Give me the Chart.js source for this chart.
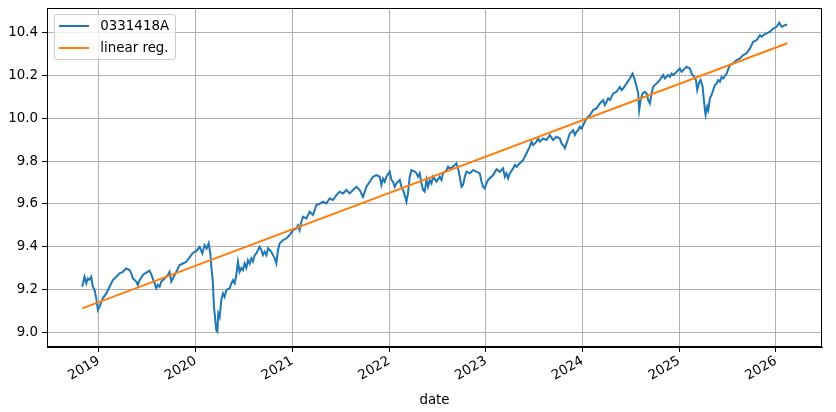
<!DOCTYPE html>
<html>
<head>
<meta charset="utf-8">
<script src="https://cdn.jsdelivr.net/npm/chart.js"></script>
<style>
    body { margin: 0; background: #fff; }
    #wrap { position: relative; width: 836px; height: 412px; }
    #legend {
        position: absolute; left: 54px; top: 14px; width: 122px; height: 46px;
        box-sizing: border-box; border: 1px solid #cccccc; border-radius: 3px;
        background: rgba(255, 255, 255, 0.8);
        font-family: "DejaVu Sans", sans-serif; font-size: 13.4px; color: #000;
    }
    #legend .row { display: flex; align-items: center; height: 21.7px; padding-left: 3.7px; }
    #legend .swatch { width: 30px; height: 2px; margin-right: 11.6px; }
</style>
</head>
<body>
<div id="wrap">
    <canvas id="chart" width="836" height="412"></canvas>
    <div id="legend"></div>
</div>
<script>
// dates as decimal years
const years = [
    2018.828, 2018.852, 2018.870, 2018.886, 2018.904, 2018.921, 2018.938, 2018.956, 2018.973, 2018.990,
    2019.007, 2019.025, 2019.041, 2019.077, 2019.111, 2019.145, 2019.180, 2019.214, 2019.248, 2019.283,
    2019.318, 2019.335, 2019.352, 2019.387, 2019.403, 2019.421, 2019.455, 2019.490, 2019.524, 2019.542,
    2019.576, 2019.594, 2019.610, 2019.628, 2019.645, 2019.680, 2019.714, 2019.731, 2019.749, 2019.765,
    2019.801, 2019.835, 2019.869, 2019.904, 2019.938, 2019.972, 2020.008, 2020.042, 2020.070, 2020.093,
    2020.114, 2020.135, 2020.152, 2020.163, 2020.179, 2020.190, 2020.204, 2020.214, 2020.225, 2020.235,
    2020.249, 2020.266, 2020.283, 2020.300, 2020.318, 2020.352, 2020.370, 2020.386, 2020.404, 2020.421,
    2020.438, 2020.455, 2020.473, 2020.490, 2020.507, 2020.525, 2020.541, 2020.559, 2020.576, 2020.593,
    2020.611, 2020.628, 2020.662, 2020.680, 2020.696, 2020.714, 2020.732, 2020.748, 2020.766, 2020.783,
    2020.800, 2020.818, 2020.835, 2020.852, 2020.869, 2020.903, 2020.939, 2020.973, 2021.007, 2021.042,
    2021.059, 2021.076, 2021.094, 2021.110, 2021.145, 2021.180, 2021.214, 2021.249, 2021.283, 2021.317,
    2021.352, 2021.386, 2021.421, 2021.456, 2021.490, 2021.524, 2021.559, 2021.593, 2021.627, 2021.663,
    2021.697, 2021.731, 2021.749, 2021.766, 2021.800, 2021.834, 2021.870, 2021.904, 2021.921, 2021.938,
    2021.955, 2021.973, 2022.007, 2022.025, 2022.041, 2022.059, 2022.076, 2022.111, 2022.128, 2022.145,
    2022.162, 2022.180, 2022.196, 2022.214, 2022.232, 2022.266, 2022.283, 2022.300, 2022.317, 2022.335,
    2022.352, 2022.369, 2022.387, 2022.403, 2022.421, 2022.439, 2022.455, 2022.490, 2022.524, 2022.542,
    2022.558, 2022.594, 2022.610, 2022.628, 2022.662, 2022.697, 2022.714, 2022.731, 2022.749, 2022.765,
    2022.783, 2022.801, 2022.835, 2022.869, 2022.904, 2022.938, 2022.956, 2022.972, 2022.990, 2023.007,
    2023.024, 2023.042, 2023.076, 2023.111, 2023.145, 2023.179, 2023.197, 2023.214, 2023.231, 2023.248,
    2023.283, 2023.300, 2023.318, 2023.352, 2023.386, 2023.404, 2023.421, 2023.455, 2023.473, 2023.490,
    2023.525, 2023.541, 2023.559, 2023.593, 2023.628, 2023.662, 2023.696, 2023.732, 2023.766, 2023.783,
    2023.800, 2023.818, 2023.835, 2023.852, 2023.869, 2023.887, 2023.903, 2023.921, 2023.938, 2023.955,
    2023.972, 2023.990, 2024.007, 2024.024, 2024.042, 2024.076, 2024.110, 2024.145, 2024.180, 2024.214,
    2024.231, 2024.249, 2024.265, 2024.283, 2024.300, 2024.317, 2024.352, 2024.386, 2024.404, 2024.420,
    2024.456, 2024.490, 2024.518, 2024.541, 2024.559, 2024.576, 2024.586, 2024.601, 2024.621, 2024.645,
    2024.663, 2024.679, 2024.697, 2024.714, 2024.731, 2024.766, 2024.800, 2024.834, 2024.852, 2024.886,
    2024.904, 2024.921, 2024.938, 2024.973, 2025.007, 2025.025, 2025.041, 2025.076, 2025.111, 2025.128,
    2025.152, 2025.173, 2025.186, 2025.207, 2025.221, 2025.242, 2025.255, 2025.266, 2025.273, 2025.289,
    2025.300, 2025.317, 2025.335, 2025.351, 2025.369, 2025.387, 2025.403, 2025.421, 2025.438, 2025.455,
    2025.490, 2025.524, 2025.558, 2025.594, 2025.628, 2025.662, 2025.697, 2025.731, 2025.765, 2025.801,
    2025.835, 2025.852, 2025.869, 2025.904, 2025.938, 2025.972, 2026.007, 2026.034, 2026.059, 2026.093, 2026.117
];

const values = [
    9.212, 9.259, 9.228, 9.251, 9.245, 9.259, 9.212, 9.197, 9.158, 9.103,
    9.118, 9.140, 9.158, 9.181, 9.212, 9.243, 9.259, 9.275, 9.282, 9.298,
    9.290, 9.275, 9.251, 9.236, 9.220, 9.243, 9.267, 9.278, 9.287, 9.270,
    9.228, 9.205, 9.220, 9.212, 9.236, 9.251, 9.267, 9.282, 9.236, 9.251,
    9.282, 9.314, 9.321, 9.329, 9.350, 9.370, 9.380, 9.399, 9.368, 9.407,
    9.390, 9.415, 9.370, 9.306, 9.228, 9.118, 9.056, 9.009, 9.002, 9.087,
    9.070, 9.150, 9.181, 9.165, 9.197, 9.205, 9.228, 9.243, 9.228, 9.267,
    9.329, 9.282, 9.300, 9.290, 9.321, 9.300, 9.337, 9.320, 9.345, 9.330,
    9.360, 9.368, 9.399, 9.384, 9.360, 9.376, 9.360, 9.392, 9.384, 9.376,
    9.360, 9.345, 9.321, 9.384, 9.415, 9.430, 9.439, 9.454, 9.477, 9.485,
    9.500, 9.477, 9.516, 9.540, 9.532, 9.563, 9.548, 9.595, 9.600, 9.610,
    9.602, 9.626, 9.618, 9.641, 9.657, 9.649, 9.665, 9.649, 9.665, 9.680,
    9.665, 9.633, 9.657, 9.680, 9.704, 9.727, 9.735, 9.727, 9.688, 9.719,
    9.704, 9.727, 9.751, 9.712, 9.704, 9.680, 9.696, 9.712, 9.680, 9.665,
    9.641, 9.610, 9.650, 9.727, 9.758, 9.751, 9.743, 9.727, 9.743, 9.696,
    9.665, 9.657, 9.712, 9.680, 9.712, 9.696, 9.727, 9.704, 9.727, 9.712,
    9.743, 9.758, 9.774, 9.766, 9.774, 9.790, 9.766, 9.727, 9.680, 9.688,
    9.727, 9.751, 9.743, 9.758, 9.751, 9.743, 9.704, 9.680, 9.672, 9.696,
    9.712, 9.720, 9.735, 9.762, 9.750, 9.766, 9.727, 9.743, 9.720, 9.743,
    9.766, 9.782, 9.774, 9.790, 9.805, 9.821, 9.837, 9.868, 9.891, 9.875,
    9.891, 9.906, 9.891, 9.906, 9.899, 9.922, 9.899, 9.914, 9.906, 9.883,
    9.875, 9.860, 9.883, 9.906, 9.930, 9.937, 9.945, 9.922, 9.937, 9.945,
    9.961, 9.953, 9.968, 9.984, 10.000, 10.015, 10.039, 10.047, 10.070, 10.086,
    10.063, 10.078, 10.094, 10.086, 10.101, 10.117, 10.125, 10.148, 10.133, 10.140,
    10.164, 10.187, 10.210, 10.180, 10.148, 10.117, 10.039, 10.086, 10.117, 10.125,
    10.117, 10.086, 10.070, 10.117, 10.148, 10.164, 10.180, 10.203, 10.187, 10.203,
    10.195, 10.210, 10.203, 10.218, 10.234, 10.218, 10.226, 10.242, 10.234, 10.210,
    10.195, 10.180, 10.133, 10.170, 10.180, 10.148, 10.086, 10.039, 10.016, 10.055,
    10.039, 10.094, 10.110, 10.133, 10.156, 10.164, 10.180, 10.172, 10.195, 10.187,
    10.210, 10.250, 10.258, 10.273, 10.281, 10.297, 10.305, 10.328, 10.359, 10.367,
    10.390, 10.382, 10.390, 10.398, 10.406, 10.421, 10.429, 10.448, 10.429, 10.437, 10.440
];

// regression line end points
const regYears = [2018.828, 2026.117];
const regValues = [9.111, 10.352];

const xTicks = [2019, 2020, 2021, 2022, 2023, 2024, 2025, 2026];
const yTicks = [9.0, 9.2, 9.4, 9.6, 9.8, 10.0, 10.2, 10.4];

const seriesName = "0331418A";
const regName = "linear reg.";

const FONT = { family: "DejaVu Sans", size: 13.4 };

const frame = {
    id: "frame",
    afterDatasetsDraw(chart) {
        const { ctx, chartArea: a } = chart;
        ctx.save();
        ctx.strokeStyle = "#000";
        ctx.lineWidth = 1;
        ctx.strokeRect(Math.round(a.left) + 0.5, Math.round(a.top) + 0.5,
            Math.round(a.right - a.left) - 1, Math.round(a.bottom - a.top) - 1);
        ctx.restore();
    }
};

// no extra room for labels at the ends of the axes
const noPad = s => {
    s.paddingTop = 0;
    s.paddingBottom = 0;
    s.paddingLeft = 0;
    s.paddingRight = 0;
};

const chart = new Chart(document.getElementById("chart"), {
    type: "line",
    data: {
        datasets: [
            {
                label: seriesName,
                data: years.map((x, i) => ({ x: x, y: values[i] })),
                borderColor: "#1f77b4",
                borderWidth: 2,
                pointRadius: 0,
                order: 1
            },
            {
                label: regName,
                data: regYears.map((x, i) => ({ x: x, y: regValues[i] })),
                borderColor: "#ff7f0e",
                borderWidth: 2,
                pointRadius: 0,
                order: 0
            }
        ]
    },
    options: {
        responsive: false,
        animation: false,
        layout: { padding: { left: 0, right: 14, top: 8, bottom: 0 } },
        plugins: { legend: { display: false }, tooltip: { enabled: false } },
        scales: {
            x: {
                type: "linear",
                min: 2018.464,
                max: 2026.476,
                afterBuildTicks: s => { s.ticks = xTicks.map(v => ({ value: v })); },
                afterFit: s => { s.height = 65; noPad(s); },
                ticks: {
                    color: "#000", font: FONT, padding: 1,
                    minRotation: 30, maxRotation: 30,
                    callback: v => String(v)
                },
                grid: { color: "#b0b0b0", lineWidth: 1, tickColor: "#000", tickLength: 5 },
                border: { color: "#000", width: 1 },
                title: { display: true, text: "date", color: "#000", font: FONT, padding: { top: 0, bottom: 3 } }
            },
            y: {
                type: "linear",
                min: 8.930,
                max: 10.517,
                afterBuildTicks: s => { s.ticks = yTicks.map(v => ({ value: v })); },
                afterFit: s => { s.width = 47; noPad(s); },
                ticks: { color: "#000", font: FONT, padding: 4, callback: v => v.toFixed(1) },
                grid: { color: "#b0b0b0", lineWidth: 1, tickColor: "#000", tickLength: 5 },
                border: { color: "#000", width: 1 }
            }
        }
    },
    plugins: [frame]
});

// legend inside the plot, built from the datasets
const legend = document.getElementById("legend");
chart.data.datasets.forEach(ds => {
    const row = document.createElement("div");
    row.className = "row";
    const sw = document.createElement("span");
    sw.className = "swatch";
    sw.style.background = ds.borderColor;
    const label = document.createElement("span");
    label.textContent = ds.label;
    row.appendChild(sw);
    row.appendChild(label);
    legend.appendChild(row);
});
</script>
</body>
</html>
